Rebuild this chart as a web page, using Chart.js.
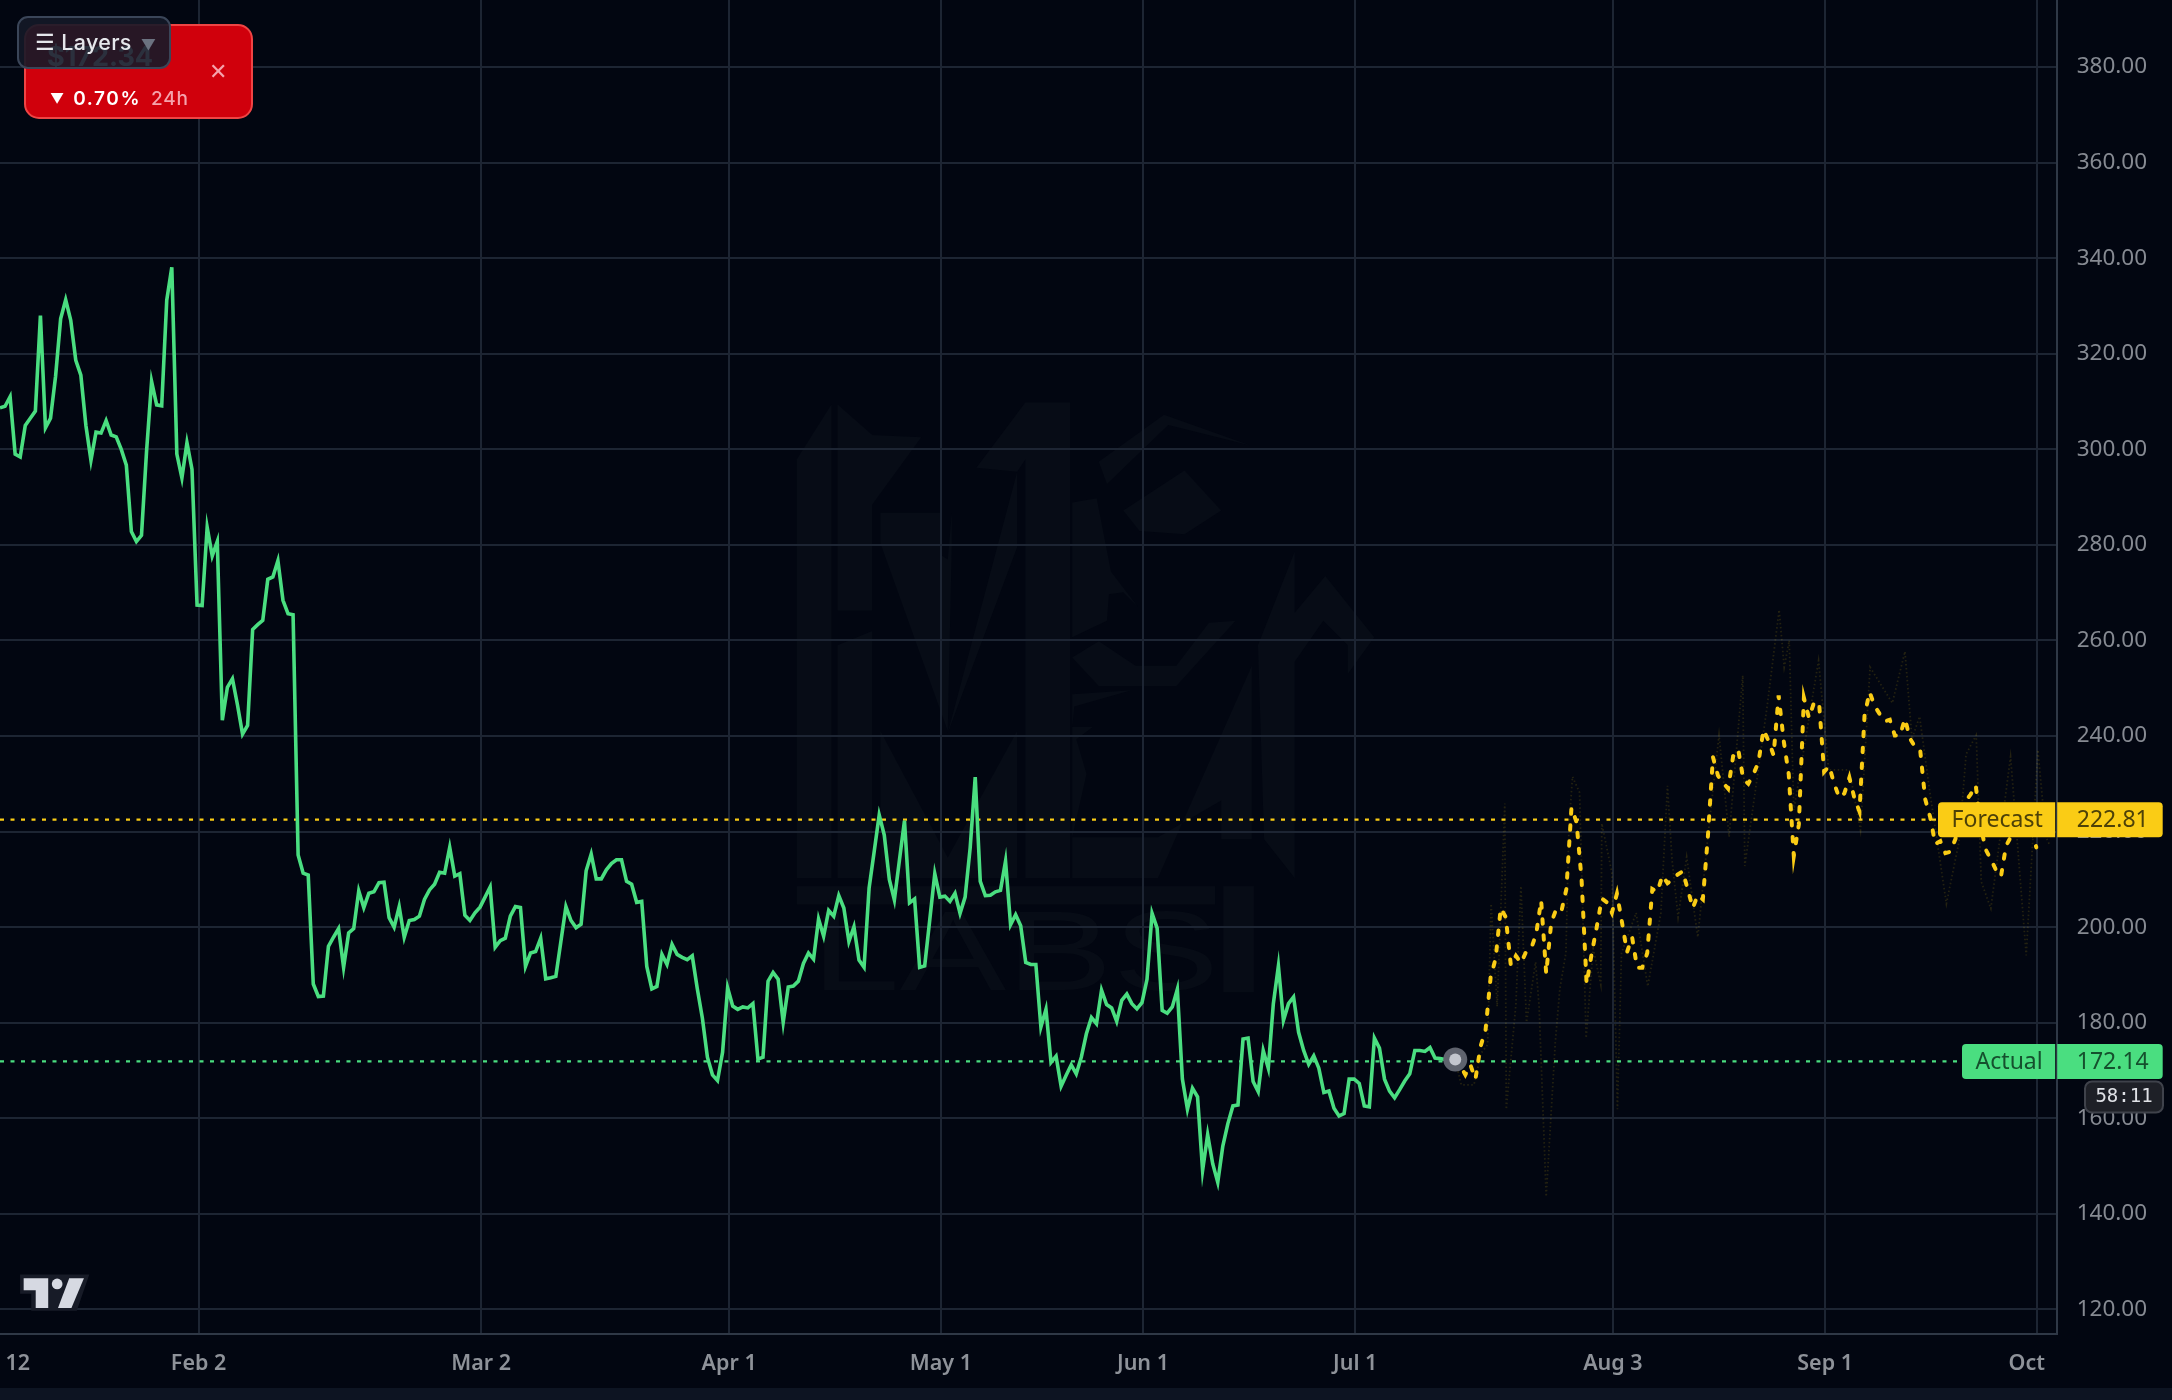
<!DOCTYPE html>
<html>
<head>
<meta charset="utf-8">
<script src="https://cdn.jsdelivr.net/npm/chart.js@4"></script>
<style>
html,body{margin:0;padding:0;background:#020611;width:2172px;height:1400px;overflow:hidden;font-family:Inter,"Noto Sans",sans-serif}
#wrap{position:relative;width:2172px;height:1400px}
#wm{position:absolute;left:760px;top:380px;width:640px;height:640px}
canvas{position:absolute;left:0;top:0;filter:blur(0.5px)}
#strip{position:absolute;left:0;top:1388px;width:2172px;height:12px;background:#0d1422}
#logo{position:absolute;left:0;top:700px;width:700px;height:700px;pointer-events:none}
#card{position:absolute;left:24px;top:24px;width:229px;height:95px;box-sizing:border-box;background:#d0000c;border:2px solid #ef4444;border-radius:15px;color:#fff}
#price{position:absolute;left:21px;top:16px;font-size:27px;font-weight:700;line-height:30px}
#chg{position:absolute;left:24px;top:61px;font-size:19px;font-weight:600;letter-spacing:1.6px;line-height:24px;white-space:nowrap}
#chg b{font-size:14px;font-weight:400;margin-right:9px;position:relative;top:-1px;letter-spacing:0}
#chg span{color:#f5a3ad;font-weight:500;margin-left:10px;letter-spacing:.8px}
#close{position:absolute;left:183px;top:31px;font-size:22px;line-height:28px;color:#f5a3ad}
#layers{position:absolute;left:17px;top:16px;width:154px;height:53px;box-sizing:border-box;background:rgba(20,26,40,.9);border:2px solid #3a4558;border-radius:11px;color:#e5e7eb;font-size:21.5px;font-weight:500;line-height:49px;white-space:nowrap;padding-left:16px;letter-spacing:.3px}
#layers i{font-style:normal;color:#6b7280;font-size:15px;margin-left:9px}
</style>
</head>
<body>
<div id="wrap">
<svg id="wm" viewBox="0 0 1568 1568" fill="#070c16">
<polygon points="90,195 175,60 175,1220 90,1220"/>
<polygon points="190,60 275,135 395,140 275,305 275,565 190,565"/>
<polygon points="190,650 275,615 275,1220 190,1220"/>
<polygon points="295,325 445,325 445,430 460,440 470,325 470,400 460,860 295,400"/>
<polygon points="295,860 460,1170 630,860 630,1220 295,1220"/>
<polygon points="460,865 630,410 630,225 530,215 650,55 760,55 760,1220 650,1220 650,195 630,225"/>
<polygon points="830,200 990,85 1200,160 1000,110 850,255"/>
<polygon points="890,320 1040,222 1130,320 1040,378 930,370"/>
<polygon points="765,630 850,590 855,525 890,520 925,555 860,470 825,290 765,300"/>
<polygon points="765,680 830,750 1020,750 1165,590 1100,595 1020,700 920,700 830,640"/>
<polygon points="765,770 910,760 770,800 765,850 815,850 775,880 800,965 765,1120 975,1120 1130,1030 1130,1125 1205,1125 1205,700 975,1220 765,1220"/>
<polygon points="1310,420 1310,570 1385,480 1505,630 1440,720 1440,650 1380,590 1310,690 1310,1220 1235,1125 1220,650"/>
<rect x="90" y="1240" width="1025" height="45"/>
<rect x="1135" y="1240" width="75" height="260"/>
<text x="125" y="1495" font-family="Liberation Sans" font-size="275" textLength="1000" lengthAdjust="spacingAndGlyphs">LABS</text>
</svg>
<canvas id="c" width="2172" height="1400"></canvas>
<div id="strip"></div>
<svg id="logo" viewBox="0 0 1568 1568">
<polygon points="45,1287 200,1287 172,1368 70,1368 70,1330 45,1330" fill="#171b27"/>
<polygon points="53,1295 108,1295 108,1362 80,1362 80,1322 53,1322" fill="#d6d9e2"/>
<circle cx="128" cy="1308" r="12" fill="#d6d9e2"/>
<polygon points="155,1295 188,1295 160,1362 130,1362" fill="#d6d9e2"/>
</svg>
<div id="card">
<div id="price">$172.34</div>
<div id="chg"><b>▼</b>0.70%<span>24h</span></div>
<div id="close">✕</div>
</div>
<div id="layers">☰ Layers<i>▼</i></div>
</div>
<script>
const actualPrice = [308.7,309,311,299,298.4,305,306.5,308,328,304.5,306.5,315.3,327.3,331.3,327,318.6,315.5,305,297.7,303.6,303.4,306,303,302.6,300,296.7,282.8,280.7,282,299.5,314.2,309.3,309.1,331.2,338.1,299,294,301.4,295.8,267.4,267.3,283.7,277.7,280.7,243.3,250.2,252,246.5,240.4,242.2,262.3,263.3,264.2,272.8,273.3,276.7,268.4,265.6,265.4,215.1,211.3,210.9,188.1,185.5,185.6,196,197.9,199.7,191.6,198.8,199.7,207.6,204.1,207.1,207.4,209.3,209.4,202,200,204.3,197.9,201.4,201.6,202.3,205.8,207.8,209,211.5,211.3,216.7,210.7,211.2,202.5,201.4,203,204.2,206.3,208.4,195.8,197.2,197.7,202.3,204.3,204.1,191.8,194.6,194.9,197.7,189.2,189.4,189.7,197,204.3,201.4,199.9,200.6,211.8,215.3,210.1,210.1,212,213.3,214.1,214.1,209.6,209,205.2,205.4,191.8,187.1,187.6,194.3,192.2,196.4,194.3,193.7,193.2,194,187.1,181,172.8,169.1,167.9,173.8,187.3,183.5,182.8,183.3,183.1,184,172.4,172.8,188.7,190.5,189.1,180.1,187.5,187.7,188.7,192.4,194.6,193.3,201.7,198.1,203.5,202.3,206.6,204,197,200.1,193.1,191.6,208.2,215.8,223.5,219.3,210,205.7,214,222.3,205.1,205.9,191.6,191.9,201.5,211.2,206.3,206.5,205.4,207.1,202.9,206.3,216.6,231.4,209.6,206.6,206.7,207.4,207.7,213.8,200.5,202.6,200.3,192.6,192.2,192.2,179.1,182.8,171.7,173,166.7,169,171.2,169.3,172.8,177.7,181.1,179.8,186.8,183.8,183.1,180.3,184.7,186,184,182.9,184.2,189.1,202.9,199.8,182.6,182,183.3,187,168.2,161.9,166.3,164.5,149.1,156.6,150.5,146.6,154.2,158.9,162.6,162.8,176.6,176.8,167.7,165.6,174.2,170.5,184,191.9,180.5,184,185.4,178,174.2,171.3,173.1,170.5,165.4,165.7,162.1,160.5,161,168.2,168.2,167.3,162.6,162.4,176.8,174.7,168.2,165.7,164.3,166,167.8,169.3,174.2,174.2,174,174.8,172.6,172.5,172.3,172.3,172.3];

const forecastStartBar = 288;
const forecastPrice = [172.5,171,169.1,171.2,168.2,175,178.5,189.5,193.5,204,202.1,192,194,192.5,194.8,195.5,198.5,205.6,190.3,201,203.8,203.3,208,225,222,210,188.1,194.5,200,206,205.2,203,207,201,194.8,197.9,191.5,191.5,194.6,208,207.4,210.8,209.2,210,211,211.7,208,204,206.7,205.8,219,235.6,231.7,230.2,229,235.8,237.2,231,230,232,234.5,241.3,239,236,248.5,239,232,214.9,221.5,248,243.8,247,247,232.5,233.7,230,227.1,228,231.3,227,224.2,244.3,249.2,246.3,244.6,243.1,243.4,240.1,240.1,243.6,239.5,237.7,237.2,226.8,223,217.4,218,215.5,215.8,218.5,223,226.4,227.8,229.7,221,216.2,214.2,212,210.6,217,219,219.5,220,221,220,216.7];

const rawBars = [288,289.2,291.7,293.1,294.4,295.1,296.3,297.8,298.1,300,301,302.1,303.9,304.6,306,307.8,308.7,309.9,310.5,311.2,312.6,313.9,315.3,316.8,317,319,320.1,320.9,323.8,326.1,328.7,330,330.9,332.1,333.8,336,338,340.2,342.2,344.9,345.3,349.7,352.1,353.1,354.1,355,359.9,361.9,366,368.2,370.1,374.5,377,378.4,379.9,381.8,385.2,387.7,389.1,391.1,392.1,394,397.9,401,403.3,404.9,405.7];
const rawPrice = [172.3,167,167,173.6,175.4,204.9,183.4,225.9,161.9,183.8,208.6,180.1,192.7,183.4,143.6,175.9,187.1,194.6,220.7,231.5,228.2,176.8,195.5,188,221.7,211.4,161.9,194.6,203,187.6,203,229.6,214.2,202.1,214.7,197.9,218.9,240.2,218.9,252.7,212.8,246,266.4,254.4,260,224.5,255.8,232.9,232.9,220.3,254.4,246.9,257.7,239.4,244.1,229.2,204.9,217.9,236.2,240.2,209.5,203.9,235.7,194.1,237.1,218.9,217];

const forecastLevel = 222.5, forecastText = '222.81';
const actualLevel = 171.9, actualText = '172.14';
const liveBar = 288, livePrice = 172.3;
const timerText = '58:11';

const monthBars = [39.3,95.2,144.3,186.2,226.2,268.2,319.2,361.2,403.2];
const monthLabels = ['Feb 2','Mar 2','Apr 1','May 1','Jun 1','Jul 1','Aug 3','Sep 1',''];
const labelOnlyBars = [3.5,401.1];
const labelOnlyText = ['12','Oct'];
const priceTicks = [120,140,160,180,200,220,240,260,280,300,320,340,360,380];
const barMax = 407.03, priceMin = 114.95, priceMax = 394.03;

const GREEN='#4ade80', YELLOW='#facc15';
const xy = (xs,ys)=>ys.map((y,i)=>({x:xs[i],y}));
const base = {pointRadius:0,pointHoverRadius:0,tension:0,fill:false};
const noPad = s=>{s.paddingLeft=s.paddingRight=s.paddingTop=s.paddingBottom=0};

const tagPlugin = {
  id:'tags',
  afterDraw(ch){
    const c=ch.ctx, y=ch.scales.y, a=ch.chartArea.right;
    const tag=(lev,left,bg,fg,name,val)=>{
      const m=y.getPixelForValue(lev), h=35;
      c.save();
      c.fillStyle=bg;
      c.beginPath();c.roundRect(left,m-h/2,a-left-1.5,h,[4,0,0,4]);c.fill();
      c.beginPath();c.roundRect(a+0.5,m-h/2,105.5,h,[0,4,4,0]);c.fill();
      c.fillStyle=fg;c.textBaseline='middle';c.textAlign='right';
      c.font='23px "Noto Sans"';
      c.fillText(name,a-14,m+1);
      c.fillText(val,a+92,m+1);
      c.restore();
    };
    tag(forecastLevel,1938,YELLOW,'#4d4108','Forecast',forecastText);
    tag(actualLevel,1962,GREEN,'#15502d','Actual',actualText);
    c.save();
    c.fillStyle='#1e2027';c.strokeStyle='#3f424b';c.lineWidth=2;
    c.beginPath();c.roundRect(2085,1081.5,78,31,7);c.fill();c.stroke();
    c.fillStyle='#dfe1e6';c.font='19px "DejaVu Sans Mono"';c.textAlign='center';c.textBaseline='middle';
    c.fillText(timerText,2124,1097.5);
    c.restore();
  }
};

new Chart(document.getElementById('c'),{
  type:'line',
  plugins:[tagPlugin],
  data:{datasets:[
    {...base,order:1,data:[{x:liveBar,y:livePrice}],pointRadius:6,backgroundColor:'#c3c6ce',borderWidth:0,showLine:false},
    {...base,order:2,data:[{x:liveBar,y:livePrice}],pointRadius:12,backgroundColor:'#5f636e',borderWidth:0,showLine:false},
    {...base,order:3,data:forecastPrice.map((y,i)=>({x:forecastStartBar+i,y})),borderColor:YELLOW,borderWidth:4,borderDash:[4.5,11.5],borderCapStyle:'round'},
    {...base,order:4,data:actualPrice.map((y,i)=>({x:i,y})),borderColor:GREEN,borderWidth:3.6,borderJoinStyle:'miter'},
    {...base,order:5,data:xy(rawBars,rawPrice),borderColor:'rgba(250,204,21,0.14)',borderWidth:1.8,borderDash:[1.5,2.5]},
    {...base,order:6,data:[{x:0,y:forecastLevel},{x:barMax,y:forecastLevel}],borderColor:YELLOW,borderWidth:2.2,borderDash:[4,6.5]},
    {...base,order:7,data:[{x:0,y:actualLevel},{x:barMax,y:actualLevel}],borderColor:GREEN,borderWidth:2.2,borderDash:[4,6.5]}
  ]},
  options:{
    responsive:false,animation:false,
    layout:{padding:0,autoPadding:false},
    plugins:{legend:{display:false},tooltip:{enabled:false}},
    events:[],
    scales:{
      x:{
        type:'linear',min:0,max:barMax,
        afterFit(s){s.height=66.4;noPad(s)},
        afterBuildTicks(s){s.ticks=[...monthBars,...labelOnlyBars].map(value=>({value}))},
        grid:{color:c=>labelOnlyBars.includes(c.tick&&c.tick.value)?'transparent':'#1d2533',lineWidth:2,drawTicks:false},
        border:{display:true,color:'#2f3846',width:2},
        ticks:{
          autoSkip:false,maxRotation:0,minRotation:0,padding:17,color:'#8e9299',
          font:{family:'"Noto Sans"',size:21.5,weight:'600'},
          callback(v){
            const i=monthBars.indexOf(v);
            if(i>=0) return monthLabels[i];
            return labelOnlyText[labelOnlyBars.indexOf(v)];
          }
        }
      },
      y:{
        position:'right',min:priceMin,max:priceMax,
        afterFit(s){s.width=115.3;noPad(s)},
        afterBuildTicks(s){s.ticks=priceTicks.map(value=>({value}))},
        grid:{color:'#1d2533',lineWidth:2,drawTicks:false},
        border:{display:true,color:'#2f3846',width:2},
        ticks:{
          padding:20,crossAlign:'near',color:'#868a92',
          font:{family:'"Noto Sans"',size:22.5},
          callback:v=>v.toFixed(2)
        }
      }
    }
  }
});
</script>
</body>
</html>
